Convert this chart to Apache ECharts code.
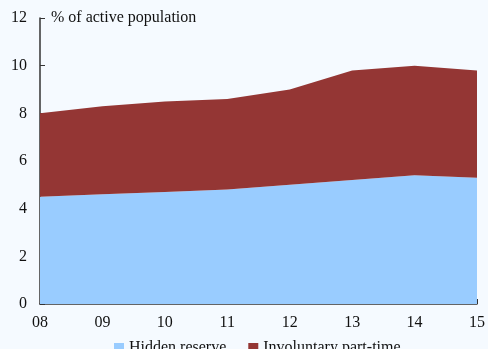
<!DOCTYPE html>
<html><head><meta charset="utf-8">
<script src="https://cdn.jsdelivr.net/npm/echarts@6/dist/echarts.min.js"></script>
<style>html,body{margin:0;padding:0;background:#f5faff;}#c{width:488px;height:349px;}</style>
</head><body><div id="c"></div>
<script>
const categories = ['08','09','10','11','12','13','14','15'];
const hiddenReserve = [4.5, 4.6, 4.7, 4.8, 5.0, 5.2, 5.4, 5.3];
const involuntaryPartTime = [3.5, 3.7, 3.8, 3.8, 4.0, 4.6, 4.6, 4.5];
const seriesNames = ['Hidden reserve', 'Involuntary part-time'];
const yTicks = [0, 2, 4, 6, 8, 10, 12];

const font = 'Liberation Serif, Times New Roman, serif';
const chart = echarts.init(document.getElementById('c'));
chart.setOption({
  backgroundColor: '#f5faff',
  animation: false,
  textStyle: {fontFamily: font},
  grid: {left: 40, right: 9, top: 18, bottom: 45, containLabel: false},
  legend: {
    bottom: -12, left: 109,
    itemWidth: 10, itemHeight: 10, itemGap: 22,
    icon: 'rect',
    textStyle: {fontFamily: font, fontSize: 16, color: '#111'},
    data: seriesNames
  },
  graphic: [{
    type: 'text', left: 51, top: 10,
    style: {text: '% of active population', font: '16px ' + font, fill: '#111'}
  }],
  xAxis: {
    type: 'category', data: categories, boundaryGap: false,
    axisLine: {lineStyle: {color: '#333', width: 1.5}},
    axisTick: {inside: true, length: 5, lineStyle: {color: '#333'}},
    axisLabel: {fontFamily: font, fontSize: 16, color: '#111', margin: 11}
  },
  yAxis: {
    type: 'value', min: yTicks[0], max: yTicks[yTicks.length-1], interval: 2,
    axisLine: {show: true, lineStyle: {color: '#333', width: 1.5}},
    axisTick: {show: true, inside: true, length: 5, lineStyle: {color: '#333'}},
    splitLine: {show: false},
    axisLabel: {fontFamily: font, fontSize: 16, color: '#111', margin: 13}
  },
  series: [
    {name: seriesNames[0], type: 'line', stack: 'a', data: hiddenReserve,
     symbol: 'none', lineStyle: {width: 0}, itemStyle: {color: '#99ccff'},
     areaStyle: {color: '#99ccff', opacity: 1}},
    {name: seriesNames[1], type: 'line', stack: 'a', data: involuntaryPartTime,
     symbol: 'none', lineStyle: {width: 0}, itemStyle: {color: '#943634'},
     areaStyle: {color: '#943634', opacity: 1}}
  ]
});
</script></body></html>
